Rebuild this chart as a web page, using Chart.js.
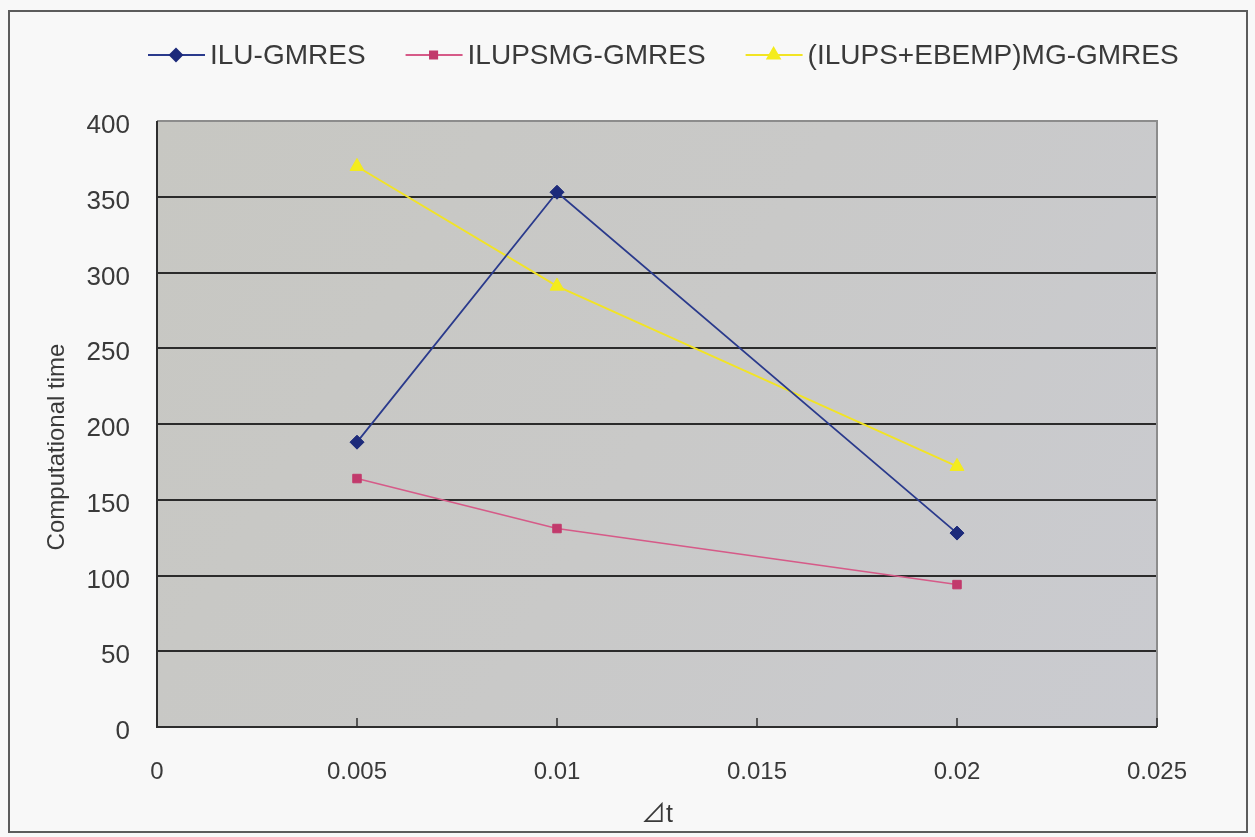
<!DOCTYPE html>
<html>
<head>
<meta charset="utf-8">
<script src="https://cdn.jsdelivr.net/npm/chart.js@4/dist/chart.umd.min.js"></script>
<style>
  html, body { margin: 0; padding: 0; background: #f8f8f8; }
  canvas { display: block; }
</style>
</head>
<body>
<canvas id="c" width="1255" height="837"></canvas>
<script>
// Time step sizes and computational times for the three solvers
const dtValues = [0.005, 0.01, 0.02];
const seriesNames = ['ILU-GMRES', 'ILUPSMG-GMRES', '(ILUPS+EBEMP)MG-GMRES'];
const iluGmres = [188, 353, 128];
const ilupsmgGmres = [164, 131, 94];
const ilupsEbempMgGmres = [370, 291, 172];

const xTickValues = [0, 0.005, 0.01, 0.015, 0.02, 0.025];
const xTickLabels = ['0', '0.005', '0.01', '0.015', '0.02', '0.025'];
const yTickValues = [0, 50, 100, 150, 200, 250, 300, 350, 400];
const yTickLabels = ['0', '50', '100', '150', '200', '250', '300', '350', '400'];
const xTitle = '⊿t';
const yTitle = 'Computational time';

const FONT = "'Liberation Sans', Arial, 'Noto Sans CJK JP', sans-serif";
const TEXT = '#3a3a3a';

const toPoints = ys => dtValues.map((x, i) => ({ x, y: ys[i] }));

const styles = [
  { line: '#2a3a8c', fill: '#1c2a7a', point: 'rectRot', r: 7, width: 1.8 },
  { line: '#d65a88', fill: '#c23a6c', point: 'rect', r: 6, width: 1.5 },
  { line: '#f2e424', fill: '#f4ec1c', point: 'triangle', r: 8, width: 1.8 }
];
const seriesValues = [iluGmres, ilupsmgGmres, ilupsEbempMgGmres];

const datasets = seriesValues.map((vals, i) => ({
  label: seriesNames[i],
  data: toPoints(vals),
  showLine: true,
  borderColor: styles[i].line,
  borderWidth: styles[i].width,
  backgroundColor: styles[i].fill,
  pointBackgroundColor: styles[i].fill,
  pointBorderColor: styles[i].fill,
  pointBorderWidth: 1,
  pointStyle: styles[i].point,
  pointRadius: styles[i].r,
  pointHoverRadius: styles[i].r,
  tension: 0
}));

// Plot-area fill, frame, inward x ticks, legend and vertical axis title
const decor = {
  id: 'decor',
  beforeDraw(chart) {
    const { ctx, chartArea: a } = chart;
    ctx.save();
    ctx.fillStyle = '#f8f8f8';
    ctx.fillRect(0, 0, chart.width, chart.height);
    ctx.strokeStyle = '#5c5c5c';
    ctx.lineWidth = 2;
    ctx.strokeRect(9, 11, 1238, 821);
    const g = ctx.createLinearGradient(a.left, a.top, a.right, a.bottom);
    g.addColorStop(0, '#c7c7c2');
    g.addColorStop(0.5, '#c9c9c8');
    g.addColorStop(1, '#cacbd0');
    ctx.fillStyle = g;
    ctx.fillRect(a.left, a.top, a.right - a.left, a.bottom - a.top);
    ctx.restore();
  },
  beforeDatasetsDraw(chart) {
    const { ctx, chartArea: a, scales } = chart;
    ctx.save();
    // light top and right edges
    ctx.strokeStyle = '#8c8c8c';
    ctx.lineWidth = 2;
    ctx.beginPath();
    ctx.moveTo(a.left, a.top); ctx.lineTo(a.right, a.top); ctx.lineTo(a.right, a.bottom);
    ctx.stroke();
    // dark left and bottom edges
    ctx.strokeStyle = '#2e2e2e';
    ctx.beginPath();
    ctx.moveTo(a.left, a.top); ctx.lineTo(a.left, a.bottom); ctx.lineTo(a.right, a.bottom);
    ctx.stroke();
    // inward tick marks on the x axis
    ctx.lineWidth = 1.5;
    xTickValues.forEach(v => {
      const px = scales.x.getPixelForValue(v);
      ctx.beginPath();
      ctx.moveTo(px, a.bottom);
      ctx.lineTo(px, a.bottom - 9);
      ctx.stroke();
    });
    ctx.restore();
  },
  afterDraw(chart) {
    const { ctx } = chart;
    ctx.save();
    // legend: short line with marker, then series name
    ctx.font = `28px ${FONT}`;
    ctx.textBaseline = 'middle';
    ctx.textAlign = 'left';
    let x = 148;
    const y = 55;
    chart.data.datasets.forEach((ds, i) => {
      const s = styles[i];
      ctx.strokeStyle = s.line;
      ctx.lineWidth = 2;
      ctx.beginPath();
      ctx.moveTo(x, y); ctx.lineTo(x + 57, y);
      ctx.stroke();
      ctx.fillStyle = s.fill;
      ctx.strokeStyle = s.fill;
      Chart.helpers.drawPoint(ctx, { pointStyle: s.point, radius: s.r - 1, rotation: 0, borderWidth: 1 }, x + 28, y);
      ctx.fillStyle = TEXT;
      ctx.fillText(ds.label, x + 62, y + 1);
      x += 62 + ctx.measureText(ds.label).width + 40;
    });
    // vertical axis title
    ctx.translate(57, 447);
    ctx.rotate(-Math.PI / 2);
    ctx.textAlign = 'center';
    ctx.font = `24px ${FONT}`;
    ctx.fillStyle = TEXT;
    ctx.fillText(yTitle, 0, 0);
    ctx.restore();
  }
};

new Chart(document.getElementById('c'), {
  type: 'scatter',
  data: { datasets },
  plugins: [decor],
  options: {
    responsive: false,
    devicePixelRatio: 1,
    animation: false,
    events: [],
    layout: { padding: { left: 0, right: 98, top: 121, bottom: 0 } },
    plugins: { legend: { display: false }, tooltip: { enabled: false } },
    scales: {
      x: {
        type: 'linear',
        min: 0,
        max: 0.025,
        afterFit: s => { s.height = 110; },
        afterBuildTicks: s => { s.ticks = xTickValues.map(v => ({ value: v })); },
        ticks: {
          padding: 23,
          maxRotation: 0,
          autoSkip: false,
          color: TEXT,
          font: { family: FONT, size: 24 },
          callback: (v, i) => xTickLabels[i]
        },
        grid: { display: false },
        border: { display: false },
        title: {
          display: true,
          text: xTitle,
          color: TEXT,
          font: { family: FONT, size: 25 },
          padding: { top: 0, bottom: 7 }
        }
      },
      y: {
        type: 'linear',
        min: 0,
        max: 400,
        afterFit: s => { s.width = 157; },
        afterBuildTicks: s => { s.ticks = yTickValues.map(v => ({ value: v })); },
        ticks: {
          padding: 27,
          labelOffset: 5,
          color: TEXT,
          font: { family: FONT, size: 26 },
          callback: (v, i) => yTickLabels[i]
        },
        grid: {
          drawTicks: false,
          lineWidth: 2,
          color: ctx => (ctx.tick && ctx.tick.value === 400 ? 'rgba(0,0,0,0)' : '#2b2b2b')
        },
        border: { display: false }
      }
    }
  }
});
</script>
</body>
</html>
